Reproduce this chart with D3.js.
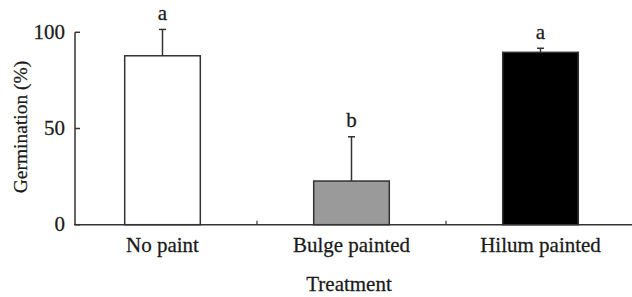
<!DOCTYPE html>
<html><head><meta charset="utf-8">
<script src="https://cdn.jsdelivr.net/npm/d3@7"></script>
<style>body{margin:0;background:#fff}svg{display:block}text{font-family:"Liberation Serif","Times New Roman",serif;fill:#1a1a1a;stroke:#1a1a1a;stroke-width:0.25px}</style>
</head><body><svg width="632" height="297"></svg>
<script>
const categories = ["No paint", "Bulge painted", "Hilum painted"];
const values = [87.8, 22.7, 89.6];
const errors = [13.7, 23.0, 2.1];
const letters = ["a", "b", "a"];
const fills = ["#ffffff", "#9a9a9a", "#000000"];
const yTicks = [0, 50, 100];

const svg = d3.select("svg");
const ink = "#333";
const FS = 20, SX = 1.05;
const y = d3.scaleLinear().domain([0, 100]).range([224.7, 32.3]);
const x = d3.scaleBand().domain(categories).range([68, 635]).padding(0);
const bw = x.bandwidth() * 0.4;

function stext(px, py, str, anchor) {
  svg.append("g").attr("transform", `translate(${px},${py}) scale(${SX},1)`)
    .append("text").attr("text-anchor", anchor || "middle").attr("font-size", FS).text(str);
}

// bars
categories.forEach((c, i) => {
  const cx = x(c) + x.bandwidth() / 2;
  svg.append("rect").attr("x", cx - bw / 2).attr("y", y(values[i]))
    .attr("width", bw).attr("height", y(0) - y(values[i]))
    .attr("fill", fills[i]).attr("stroke", ink).attr("stroke-width", 1.5);
  const top = y(values[i] + errors[i]);
  svg.append("line").attr("x1", cx).attr("x2", cx).attr("y1", y(values[i])).attr("y2", top)
    .attr("stroke", ink).attr("stroke-width", 1.5);
  svg.append("line").attr("x1", cx - 3.5).attr("x2", cx + 3.5).attr("y1", top).attr("y2", top)
    .attr("stroke", ink).attr("stroke-width", 1.5);
  stext(cx, top - 9.5, letters[i]);
  stext(cx, 251.5, c);
});

// y axis
svg.append("line").attr("x1", 75).attr("x2", 75).attr("y1", y(100)).attr("y2", y(0))
  .attr("stroke", ink).attr("stroke-width", 1.5);
yTicks.forEach(t => {
  svg.append("line").attr("x1", 75).attr("x2", 80).attr("y1", y(t)).attr("y2", y(t))
    .attr("stroke", ink).attr("stroke-width", 1.5);
  stext(65, y(t) + 6.5, String(t), "end");
});
// x axis
svg.append("line").attr("x1", 74).attr("x2", 632).attr("y1", y(0)).attr("y2", y(0))
  .attr("stroke", ink).attr("stroke-width", 1.5);
categories.slice(1).forEach(c => {
  svg.append("line").attr("x1", x(c)).attr("x2", x(c)).attr("y1", y(0)).attr("y2", y(0) - 4)
    .attr("stroke", ink).attr("stroke-width", 1.2);
});

stext(349, 290.5, "Treatment");
svg.append("text").attr("transform", "translate(27,127) rotate(-90)")
  .attr("text-anchor", "middle").attr("font-size", 19.5).text("Germination (%)");
</script></body></html>
